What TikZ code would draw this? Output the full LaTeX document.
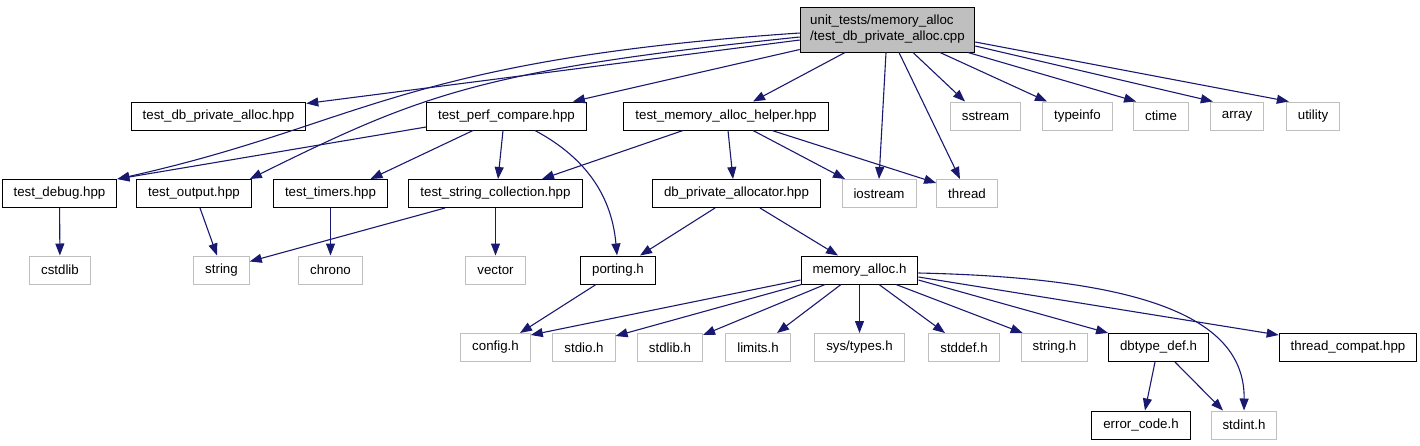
\documentclass[tikz,border=0pt]{standalone}
\usepackage{fontspec}
\setmainfont{Liberation Sans}
\definecolor{depblue}{RGB}{25, 25, 112}
\definecolor{extgray}{RGB}{191, 191, 191}
\usetikzlibrary{arrows.meta, positioning}

\begin{document}
\begin{tikzpicture}[
  x=1pt, y=-1pt,
  hdr/.style={draw=black, line width=1pt, minimum height=28pt, inner xsep=11.5pt, inner ysep=0pt, font=\fontsize{13.3}{16}\selectfont},
  sys/.style={hdr, draw=extgray},
  src/.style={hdr, fill=extgray, minimum height=45pt, align=left, inner xsep=10pt},
  dep/.style={draw=depblue, line width=1.1pt, -{Triangle[length=12pt, width=9pt]}}
]
  \useasboundingbox (0,0) rectangle (1420,445);

  \node[src] (root) at (887.5,29.5) {unit\_tests/memory\_alloc\\/test\_db\_private\_alloc.cpp};

  \node[hdr] (tdbpa)    at (218.5,116) {test\_db\_private\_alloc.hpp};
  \node[hdr] (perf)     at (506.5,116) {test\_perf\_compare.hpp};
  \node[hdr] (helper)   at (726,116)   {test\_memory\_alloc\_helper.hpp};
  \node[sys] (sstream)  at (985.5,116) {sstream};
  \node[sys] (typeinfo) at (1077.5,116) {typeinfo};
  \node[sys] (ctime)    at (1161,116)  {ctime};
  \node[sys] (array)    at (1237,116)  {array};
  \node[sys] (utility)  at (1313,116)  {utility};

  \node[hdr] (debug)    at (59.5,193.5)  {test\_debug.hpp};
  \node[hdr] (output)   at (194,193.5)   {test\_output.hpp};
  \node[hdr] (timers)   at (330.5,193.5) {test\_timers.hpp};
  \node[hdr] (strcoll)  at (495.5,193.5) {test\_string\_collection.hpp};
  \node[hdr] (dbpalloc) at (736.5,193.5) {db\_private\_allocator.hpp};
  \node[sys] (iostream) at (879,193.5)   {iostream};
  \node[sys] (thread)   at (967,193.5)   {thread};

  \node[sys] (cstdlib)  at (60,270)    {cstdlib};
  \node[sys] (string)   at (221.5,270) {string};
  \node[sys] (chrono)   at (330.5,270) {chrono};
  \node[sys] (vector)   at (495.5,270) {vector};
  \node[hdr] (porting)  at (618,270)   {porting.h};
  \node[hdr] (memalloc) at (859.5,270) {memory\_alloc.h};

  \node[sys] (config)   at (495.5,347.5)  {config.h};
  \node[sys] (stdio)    at (584,347.5)    {stdio.h};
  \node[sys] (stdlib)   at (670,347.5)    {stdlib.h};
  \node[sys] (limits)   at (758,347.5)    {limits.h};
  \node[sys] (systypes) at (859.5,347.5)  {sys/types.h};
  \node[sys] (stddef)   at (964,347.5)    {stddef.h};
  \node[sys] (stringh)  at (1054.5,347.5) {string.h};
  \node[hdr] (dbtype)   at (1158.5,347.5) {dbtype\_def.h};
  \node[hdr] (tcompat)  at (1348,347.5)   {thread\_compat.hpp};

  \node[hdr] (errcode)  at (1141,425) {error\_code.h};
  \node[sys] (stdint)   at (1244,425) {stdint.h};

  \draw[dep] ([yshift=-10.5pt]root.west) -- ([yshift=-2pt]tdbpa.north east);
  \draw[dep] ([yshift=-3.5pt]root.west) .. controls (400,60) and (360,125) .. (debug.north east);
  \draw[dep] ([yshift=-7.5pt]root.west) .. controls (480,70) and (420,95) .. ([xshift=-2pt]output.north east);
  \draw[dep] ([yshift=-20pt]root.west) -- ([xshift=-14pt]perf.north east);
  \draw[dep] ([xshift=-42.5pt]root.south) -- ([xshift=27pt]helper.north);
  \draw[dep] ([xshift=-1.5pt]root.south) -- (iostream.north);
  \draw[dep] ([xshift=11.5pt]root.south) -- ([xshift=-7pt]thread.north);
  \draw[dep] ([xshift=25.5pt]root.south) -- ([xshift=-20.5pt]sstream.north);
  \draw[dep] ([xshift=52.5pt]root.south) -- ([xshift=-30.5pt]typeinfo.north);
  \draw[dep] ([xshift=80.5pt]root.south) -- ([xshift=3pt]ctime.north west);
  \draw[dep] ([yshift=-16.5pt]root.east) -- ([xshift=3pt]array.north west);
  \draw[dep] ([yshift=-12.5pt]root.east) -- ([xshift=3pt]utility.north west);

  \draw[dep] ([yshift=-11pt]perf.west) -- (debug.north east);
  \draw[dep] ([xshift=-33.5pt]perf.south) -- ([xshift=40pt]timers.north);
  \draw[dep] ([xshift=-3.5pt]perf.south) -- ([xshift=2.5pt]strcoll.north);
  \draw[dep] ([xshift=28.5pt]perf.south) .. controls (590,160) and (612,200) .. ([xshift=-1pt]porting.north);

  \draw[dep] ([xshift=-43pt]helper.south) -- ([xshift=46.5pt]strcoll.north);
  \draw[dep] ([xshift=2pt]helper.south) -- ([xshift=-3.5pt]dbpalloc.north);
  \draw[dep] ([xshift=27pt]helper.south) -- ([xshift=-34pt]iostream.north);
  \draw[dep] ([xshift=46pt]helper.south) -- ([yshift=-4pt]thread.north west);

  \draw[dep] (debug) -- (cstdlib);
  \draw[dep] ([xshift=6pt]output.south) -- ([xshift=-4.5pt]string.north);
  \draw[dep] (timers) -- (chrono);
  \draw[dep] ([xshift=-50.5pt]strcoll.south) -- ([yshift=-6pt]string.north east);
  \draw[dep] (strcoll) -- (vector);
  \draw[dep] ([xshift=-21.5pt]dbpalloc.south) -- ([xshift=22pt]porting.north);
  \draw[dep] ([xshift=23.5pt]dbpalloc.south) -- ([xshift=-21.5pt]memalloc.north);

  \draw[dep] ([xshift=-22pt]porting.south) -- ([xshift=24.5pt]config.north);
  \draw[dep] ([yshift=-10pt]memalloc.west) -- ([yshift=-2pt]config.north east);
  \draw[dep] ([xshift=1pt]memalloc.south west) -- ([yshift=-3pt]stdio.north east);
  \draw[dep] ([xshift=-34.5pt]memalloc.south) -- ([yshift=-2pt]stdlib.north east);
  \draw[dep] ([xshift=-18.5pt]memalloc.south) -- ([xshift=19pt]limits.north);
  \draw[dep] (memalloc) -- (systypes);
  \draw[dep] ([xshift=19.5pt]memalloc.south) -- ([xshift=-19pt]stddef.north);
  \draw[dep] ([xshift=36.5pt]memalloc.south) -- ([xshift=2pt]stringh.north west);
  \draw[dep] ([yshift=-10pt]memalloc.east) -- (dbtype.north west);
  \draw[dep] ([yshift=-7pt]memalloc.east) -- ([yshift=-2pt]tcompat.north west);
  \draw[dep] ([yshift=-3pt]memalloc.east) .. controls (1150,278) and (1245,320) .. (stdint.north);

  \draw[dep] ([xshift=-3.5pt]dbtype.south) -- ([xshift=4pt]errcode.north);
  \draw[dep] ([xshift=16.5pt]dbtype.south) -- ([xshift=-21pt]stdint.north);
\end{tikzpicture}
\end{document}
